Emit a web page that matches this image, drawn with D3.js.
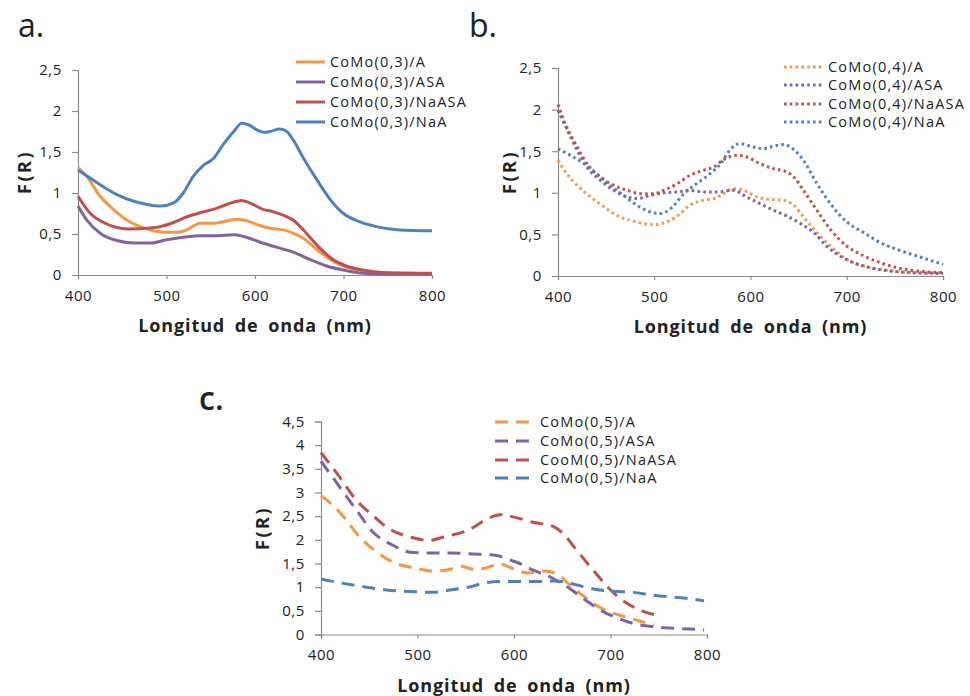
<!DOCTYPE html>
<html>
<head>
<meta charset="utf-8">
<script src="https://cdn.jsdelivr.net/npm/d3@7"></script>
<style>
  html, body { margin: 0; padding: 0; background: #fff; }
  svg { display: block; }
  text { font-family: "Open Sans", "DejaVu Sans", sans-serif; fill: #222; }
</style>
</head>
<body>
<svg id="chart" width="970" height="696"></svg>
<script>
// ---------- DATA ----------
const wlTicks = [400, 500, 600, 700, 800];
const wlTickLabels = ["400", "500", "600", "700", "800"];
const yTicksAB = [0, 0.5, 1, 1.5, 2, 2.5];
const yTickLabelsAB = ["0", "0,5", "1", "1,5", "2", "2,5"];
const yTicksC = [0, 0.5, 1, 1.5, 2, 2.5, 3, 3.5, 4, 4.5];
const yTickLabelsC = ["0", "0,5", "1", "1,5", "2", "2,5", "3", "3,5", "4", "4,5"];
const xTitle = "Longitud de onda (nm)";
const yTitle = "F(R)";

const seriesNamesA = ["CoMo(0,3)/A", "CoMo(0,3)/ASA", "CoMo(0,3)/NaASA", "CoMo(0,3)/NaA"];
const seriesNamesB = ["CoMo(0,4)/A", "CoMo(0,4)/ASA", "CoMo(0,4)/NaASA", "CoMo(0,4)/NaA"];
const seriesNamesC = ["CoMo(0,5)/A", "CoMo(0,5)/ASA", "CooM(0,5)/NaASA", "CoMo(0,5)/NaA"];

// Panel a  [wavelength nm, F(R)]
const aA = [[400,1.31],[410,1.20],[425,0.96],[440,0.80],[455,0.67],[470,0.59],[485,0.54],[500,0.52],[512,0.52],[523,0.55],[538,0.63],[553,0.63],[564,0.65],[580,0.68],[591,0.66],[606,0.60],[617,0.57],[632,0.55],[643,0.51],[654,0.45],[670,0.31],[685,0.19],[700,0.11],[718,0.06],[745,0.02],[800,0.01]];
const aASA = [[400,0.84],[410,0.67],[425,0.51],[444,0.42],[463,0.39],[482,0.39],[500,0.43],[519,0.46],[538,0.48],[557,0.48],[576,0.49],[587,0.47],[606,0.40],[624,0.34],[643,0.28],[662,0.19],[681,0.11],[700,0.06],[722,0.02],[745,0.01],[800,0.01]];
const aNaASA = [[400,0.96],[414,0.75],[429,0.64],[444,0.58],[459,0.56],[478,0.57],[493,0.59],[508,0.64],[523,0.71],[538,0.76],[553,0.80],[568,0.86],[585,0.91],[594,0.88],[609,0.80],[621,0.77],[632,0.73],[643,0.67],[658,0.51],[673,0.33],[688,0.19],[703,0.11],[722,0.06],[745,0.03],[800,0.02]];
const aNaA = [[400,1.28],[414,1.18],[425,1.10],[444,0.98],[463,0.90],[478,0.86],[493,0.84],[508,0.88],[519,1.00],[530,1.20],[542,1.34],[553,1.42],[564,1.59],[576,1.75],[585,1.85],[593,1.83],[602,1.77],[610,1.74],[617,1.75],[628,1.78],[636,1.75],[643,1.65],[654,1.44],[670,1.16],[685,0.92],[700,0.75],[718,0.65],[737,0.59],[763,0.55],[800,0.54]];

// Panel b
const bA = [[400,1.39],[409,1.23],[420,1.09],[434,0.95],[448,0.83],[461,0.73],[475,0.67],[489,0.63],[501,0.62],[513,0.65],[527,0.75],[537,0.85],[551,0.91],[562,0.93],[572,0.99],[582,1.05],[593,1.03],[607,0.95],[621,0.92],[634,0.91],[645,0.85],[655,0.71],[669,0.52],[683,0.36],[700,0.20],[718,0.12],[742,0.07],[773,0.04],[800,0.04]];
const bASA = [[400,1.99],[409,1.77],[420,1.51],[430,1.31],[444,1.15],[458,1.03],[472,0.95],[482,0.93],[496,0.97],[510,1.00],[524,1.01],[537,1.03],[551,1.01],[565,1.01],[582,1.03],[596,0.95],[610,0.87],[624,0.79],[638,0.72],[652,0.63],[666,0.52],[679,0.36],[693,0.24],[707,0.16],[724,0.10],[745,0.06],[769,0.04],[800,0.03]];
const bNaASA = [[400,2.06],[409,1.79],[420,1.55],[430,1.35],[444,1.19],[458,1.09],[472,1.03],[486,0.99],[500,0.99],[510,1.03],[524,1.11],[537,1.21],[551,1.27],[562,1.31],[572,1.40],[586,1.45],[596,1.43],[610,1.35],[624,1.29],[638,1.25],[645,1.19],[655,1.03],[669,0.79],[683,0.56],[700,0.36],[718,0.24],[735,0.16],[752,0.10],[773,0.06],[800,0.04]];
const bNaA = [[400,1.53],[413,1.45],[427,1.35],[440,1.23],[454,1.09],[468,0.97],[482,0.85],[496,0.77],[506,0.75],[517,0.81],[531,0.99],[544,1.11],[558,1.23],[569,1.35],[579,1.52],[589,1.59],[603,1.55],[614,1.53],[624,1.56],[634,1.58],[645,1.52],[655,1.39],[669,1.11],[683,0.87],[700,0.65],[718,0.52],[735,0.40],[752,0.32],[773,0.24],[800,0.14]];

// Panel c
const cA = [[400,2.93],[409,2.79],[423,2.50],[440,2.06],[458,1.74],[478,1.50],[499,1.40],[515,1.34],[534,1.38],[545,1.44],[558,1.38],[570,1.40],[585,1.49],[600,1.38],[614,1.30],[630,1.34],[644,1.29],[655,1.10],[676,0.75],[696,0.50],[714,0.38],[731,0.28],[745,0.20]];
const cASA = [[400,3.66],[420,3.10],[437,2.62],[454,2.16],[475,1.88],[492,1.74],[513,1.72],[534,1.72],[558,1.70],[582,1.67],[595,1.58],[606,1.50],[620,1.36],[637,1.22],[655,1.01],[674,0.73],[689,0.52],[707,0.35],[724,0.23],[745,0.16],[769,0.13],[797,0.10]];
const cNaASA = [[400,3.84],[416,3.42],[437,2.83],[454,2.51],[471,2.23],[492,2.06],[513,1.99],[527,2.06],[555,2.23],[572,2.44],[586,2.53],[600,2.48],[620,2.37],[641,2.28],[651,2.13],[665,1.78],[682,1.36],[700,0.94],[717,0.66],[734,0.49],[745,0.42]];
const cNaA = [[400,1.17],[423,1.08],[447,1.00],[468,0.94],[492,0.91],[517,0.89],[534,0.94],[555,1.01],[572,1.10],[586,1.12],[606,1.12],[627,1.12],[641,1.13],[655,1.10],[672,1.01],[689,0.94],[707,0.91],[724,0.89],[741,0.84],[759,0.80],[776,0.77],[797,0.71]];

const seriesColors = ["#F79646", "#8064A2", "#C0504D", "#4F81BD"];

// ---------- LAYOUT ----------
const panels = [
  { letter: "a.", letterX: 18, letterY: 37, x0: 78, x1: 432, yBottom: 275, yTop: 70, yMax: 2.5,
    ticks: yTicksAB, tickLabels: yTickLabelsAB, names: seriesNamesA, data: [aA, aASA, aNaASA, aNaA],
    dash: null, legX: 296, legLen: 29, legY: [62, 82, 102, 122], yTitleX: 31, yTitleY: 172 },
  { letter: "b.", letterX: 469, letterY: 37, x0: 558, x1: 943, yBottom: 276, yTop: 68, yMax: 2.5,
    ticks: yTicksAB, tickLabels: yTickLabelsAB, names: seriesNamesB, data: [bA, bASA, bNaASA, bNaA],
    dash: "2.6,3.2", legX: 784, legLen: 39, legY: [67, 85, 104, 122], yTitleX: 516, yTitleY: 172 },
  { letter: "c.", letterX: 199, letterY: 410, x0: 321, x1: 707, yBottom: 634.5, yTop: 421.5, yMax: 4.5,
    ticks: yTicksC, tickLabels: yTickLabelsC, names: seriesNamesC, data: [cA, cASA, cNaASA, cNaA],
    dash: "13,8", legX: 495, legLen: 40, legY: [422, 441, 460, 478], yTitleX: 269, yTitleY: 528 }
];

const svg = d3.select("#chart");
svg.append("rect").attr("width", 970).attr("height", 696).attr("fill", "#fff");

panels.forEach(p => {
  const g = svg.append("g");
  const x = d3.scaleLinear().domain([400, 800]).range([p.x0, p.x1]);
  const y = d3.scaleLinear().domain([0, p.yMax]).range([p.yBottom, p.yTop]);

  // panel letter
  g.append("text").attr("x", p.letterX).attr("y", p.letterY)
    .attr("font-size", 32).attr("font-weight", p.letter === "c." ? 600 : 400).text(p.letter);

  // y axis
  const yAxis = d3.axisLeft(y).tickValues(p.ticks)
    .tickFormat((d, i) => p.tickLabels[i]).tickSize(6).tickPadding(10);
  const ya = g.append("g").attr("transform", `translate(${p.x0},0)`).call(yAxis);
  // x axis
  const xAxis = d3.axisBottom(x).tickValues(wlTicks)
    .tickFormat((d, i) => wlTickLabels[i]).tickSize(4).tickPadding(11);
  const xa = g.append("g").attr("transform", `translate(0,${p.yBottom})`).call(xAxis);
  [ya, xa].forEach(a => {
    a.select(".domain").attr("stroke", "#8c8c8c").attr("stroke-width", 1.2);
    a.selectAll(".tick line").attr("stroke", "#8c8c8c").attr("stroke-width", 1.2);
    a.selectAll(".tick text").attr("font-size", 15).attr("fill", "#222")
      .attr("font-family", "'Open Sans', sans-serif").attr("letter-spacing", 0.6);
  });

  // titles
  g.append("text").attr("x", (p.x0 + p.x1) / 2).attr("y", p.yBottom + 57)
    .attr("text-anchor", "middle").attr("font-size", 18).attr("font-weight", 700)
    .attr("letter-spacing", 0.9).attr("word-spacing", 4).attr("fill", "#111")
    .text(xTitle);
  g.append("text")
    .attr("transform", `translate(${p.yTitleX},${p.yTitleY}) rotate(-90)`)
    .attr("text-anchor", "middle").attr("font-size", 18).attr("font-weight", 700)
    .attr("letter-spacing", 2.5).attr("fill", "#111").text(yTitle);

  // lines
  const line = d3.line().x(d => x(d[0])).y(d => y(d[1])).curve(d3.curveMonotoneX);
  p.data.forEach((s, i) => {
    const path = g.append("path").datum(s).attr("d", line)
      .attr("fill", "none").attr("stroke", seriesColors[i])
      .attr("stroke-width", 3).attr("stroke-linejoin", "round");
    if (p.dash) path.attr("stroke-dasharray", p.dash);
  });

  // legend
  p.names.forEach((n, i) => {
    const ly = p.legY[i];
    const l = g.append("line").attr("x1", p.legX).attr("x2", p.legX + p.legLen)
      .attr("y1", ly).attr("y2", ly).attr("stroke", seriesColors[i]).attr("stroke-width", 3);
    if (p.dash) l.attr("stroke-dasharray", p.dash);
    g.append("text").attr("x", p.legX + p.legLen + 5).attr("y", ly)
      .attr("dy", "0.35em").attr("font-size", 14.5).attr("letter-spacing", 1.2).text(n);
  });
});
</script>
</body>
</html>
